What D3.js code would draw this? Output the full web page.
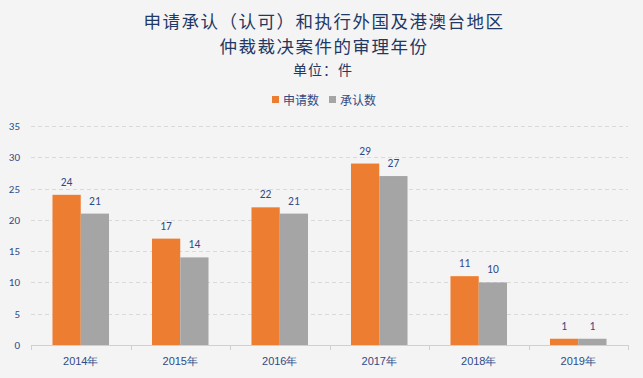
<!DOCTYPE html>
<html><head><meta charset="utf-8">
<script src="https://cdn.jsdelivr.net/npm/d3@7"></script>
<style>
html,body{margin:0;padding:0;background:#F4F4F4;}
svg{display:block;font-family:"Noto Sans CJK SC","Liberation Sans",sans-serif;}
</style></head>
<body><svg id="c" width="643" height="378"></svg>
<script>
const titleLines = ["申请承认（认可）和执行外国及港澳台地区", "仲裁裁决案件的审理年份"];
const unitLabel = "单位：件";
const categories = ["2014年","2015年","2016年","2017年","2018年","2019年"];
const seriesNames = ["申请数","承认数"];
const applied = [24,17,22,29,11,1];
const recognized = [21,14,21,27,10,1];
const yTicks = [0,5,10,15,20,25,30,35];
const colors = ["#ED7D31","#A5A5A5"];

(function(){
const svg = d3.select("#c");
svg.append("rect").attr("width",643).attr("height",378).attr("fill","#F4F4F4");

const mLeft = 31, mRight = 628, mTop = 126, mBottom = 345;
const x = d3.scaleBand().domain(categories).range([mLeft,mRight]).padding(0);
const xi = d3.scaleBand().domain(seriesNames).range([0,x.bandwidth()]).paddingInner(0).paddingOuter(0.76);
const y = d3.scaleLinear().domain([0,35]).range([mBottom,mTop]);

const textColor = "#2F4A87";
svg.selectAll("text.title").data(titleLines).enter().append("text")
  .attr("x",324).attr("y",(d,i)=>28+i*25).attr("text-anchor","middle")
  .attr("font-size",17.5).attr("fill","#1F3864").attr("letter-spacing",1.5).text(d=>d);
svg.append("text").attr("x",323).attr("y",75).attr("text-anchor","middle")
  .attr("font-size",14).attr("fill","#1F3864").attr("letter-spacing",1).text(unitLabel);

const legend = svg.append("g");
const legX = [272, 329];
seriesNames.forEach((s,i)=>{
  legend.append("rect").attr("x",legX[i]).attr("y",96).attr("width",7).attr("height",7).attr("fill",colors[i]);
  legend.append("text").attr("x",legX[i]+11).attr("y",104.5).attr("font-size",12).attr("fill",textColor).text(s);
});

svg.append("g").selectAll("line").data(yTicks.filter(d=>d>0)).enter().append("line")
  .attr("x1",mLeft).attr("x2",mRight).attr("y1",d=>Math.round(y(d))+0.5).attr("y2",d=>Math.round(y(d))+0.5)
  .attr("stroke","#D9D9D9").attr("stroke-dasharray","4,3");

const yAxis = d3.axisLeft(y).tickValues(yTicks).tickSize(0).tickPadding(0);
const ya = svg.append("g").attr("transform",`translate(${mLeft-11},0)`).call(yAxis);
ya.select(".domain").remove();
ya.selectAll("text").attr("font-size",11).attr("fill",textColor).attr("text-anchor","end")
  .attr("font-family","Calibri,Carlito,'Liberation Sans',sans-serif");

const data = categories.map((c,i)=>({c, vals:[applied[i],recognized[i]]}));
const groups = svg.append("g").selectAll("g").data(data).enter().append("g")
  .attr("transform",d=>`translate(${x(d.c)},0)`);
groups.selectAll("rect").data(d=>d.vals.map((v,j)=>({v,s:seriesNames[j],j}))).enter().append("rect")
  .attr("x",d=>xi(d.s)).attr("width",xi.bandwidth())
  .attr("y",d=>y(d.v)).attr("height",d=>y(0)-y(d.v)).attr("fill",d=>colors[d.j]);
groups.selectAll("text").data(d=>d.vals.map((v,j)=>({v,s:seriesNames[j],j}))).enter().append("text")
  .attr("x",d=>xi(d.s)+xi.bandwidth()/2).attr("y",d=>y(d.v)-9)
  .attr("text-anchor","middle").attr("font-size",11.5).attr("fill",textColor)
  .attr("font-family","Calibri,Carlito,'Liberation Sans',sans-serif").text(d=>d.v);

const xAxis = d3.axisBottom(x).tickSize(0).tickPadding(12);
const xa = svg.append("g").attr("transform",`translate(0,${mBottom})`).call(xAxis);
xa.select(".domain").attr("stroke","#D0D0D0");
xa.selectAll("text").attr("font-size",11).attr("fill",textColor);
svg.append("g").selectAll("line").data(categories.map(c=>x(c)).concat([mRight])).enter().append("line")
  .attr("x1",d=>Math.round(d)+0.5).attr("x2",d=>Math.round(d)+0.5).attr("y1",mBottom).attr("y2",mBottom+5)
  .attr("stroke","#D0D0D0");
})();
</script></body></html>
